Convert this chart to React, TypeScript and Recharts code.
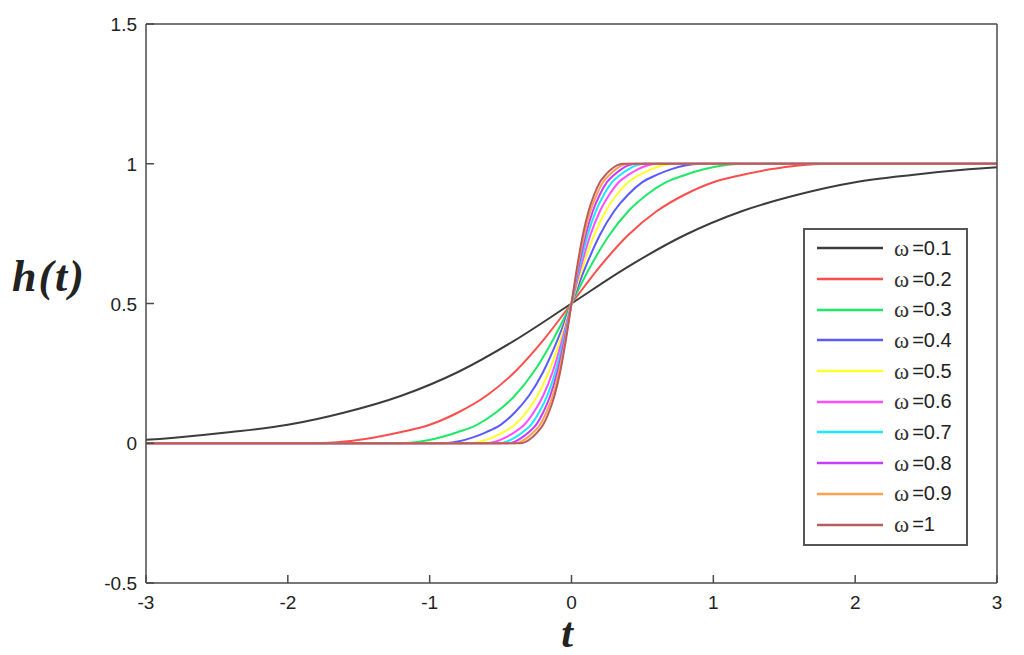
import { LineChart, Line, XAxis, YAxis, Legend } from 'recharts';

// h levels shared by every curve; each t array holds where that curve crosses the level
const levels = [0, 0, 0.006, 0.02, 0.04, 0.066, 0.11, 0.17, 0.255, 0.368, 0.5, 0.632, 0.745, 0.83, 0.89, 0.934, 0.96, 0.98, 0.994, 1, 1];

const tW01 = [-4, -3.6, -3.2, -2.8, -2.4, -2.0, -1.6, -1.2, -0.8, -0.4, 0, 0.4, 0.8, 1.2, 1.6, 2.0, 2.4, 2.8, 3.2, 3.6, 4];
const tW02 = [-3, -1.8, -1.6, -1.4, -1.2, -1.0, -0.8, -0.6, -0.4, -0.2, 0, 0.2, 0.4, 0.6, 0.8, 1.0, 1.2, 1.4, 1.6, 1.8, 3];
const tW03 = [-3, -1.2, -1.067, -0.933, -0.8, -0.667, -0.533, -0.4, -0.267, -0.133, 0, 0.133, 0.267, 0.4, 0.533, 0.667, 0.8, 0.933, 1.067, 1.2, 3];
const tW04 = [-3, -0.9, -0.8, -0.7, -0.6, -0.5, -0.4, -0.3, -0.2, -0.1, 0, 0.1, 0.2, 0.3, 0.4, 0.5, 0.6, 0.7, 0.8, 0.9, 3];
const tW05 = [-3, -0.72, -0.64, -0.56, -0.48, -0.4, -0.32, -0.24, -0.16, -0.08, 0, 0.08, 0.16, 0.24, 0.32, 0.4, 0.48, 0.56, 0.64, 0.72, 3];
const tW06 = [-3, -0.6, -0.533, -0.467, -0.4, -0.333, -0.267, -0.2, -0.133, -0.067, 0, 0.067, 0.133, 0.2, 0.267, 0.333, 0.4, 0.467, 0.533, 0.6, 3];
const tW07 = [-3, -0.514, -0.457, -0.4, -0.343, -0.286, -0.229, -0.171, -0.114, -0.057, 0, 0.057, 0.114, 0.171, 0.229, 0.286, 0.343, 0.4, 0.457, 0.514, 3];
const tW08 = [-3, -0.45, -0.4, -0.35, -0.3, -0.25, -0.2, -0.15, -0.1, -0.05, 0, 0.05, 0.1, 0.15, 0.2, 0.25, 0.3, 0.35, 0.4, 0.45, 3];
const tW09 = [-3, -0.4, -0.356, -0.311, -0.267, -0.222, -0.178, -0.133, -0.089, -0.044, 0, 0.044, 0.089, 0.133, 0.178, 0.222, 0.267, 0.311, 0.356, 0.4, 3];
const tW10 = [-3, -0.36, -0.32, -0.28, -0.24, -0.2, -0.16, -0.12, -0.08, -0.04, 0, 0.04, 0.08, 0.12, 0.16, 0.2, 0.24, 0.28, 0.32, 0.36, 3];

const omegas = ['0.1', '0.2', '0.3', '0.4', '0.5', '0.6', '0.7', '0.8', '0.9', '1'];
const colors = ['#3c3c3c', '#ff4d4d', '#1ee866', '#5a5aff', '#ffff2a', '#ff4dff', '#1ae8ff', '#c83cff', '#ffa050', '#b85c5c'];
const tSets = [tW01, tW02, tW03, tW04, tW05, tW06, tW07, tW08, tW09, tW10];

const xTicks = [-3, -2, -1, 0, 1, 2, 3];
const yTicks = [-0.5, 0, 0.5, 1, 1.5];

const series = omegas.map((w, i) => ({
  key: 'w' + w,
  omega: w,
  color: colors[i],
  data: levels.map((h, j) => ({ t: tSets[i][j], h })),
}));

const axisColor = '#4a4a4a';
const TICK_LEN = 8;
const X_GAP = 12;
const Y_GAP = 9;

// MATLAB-style ticks: short marks pointing into the plot box
const BottomTick = (p: any) => (
  <g>
    <line x1={p.x} x2={p.x} y1={p.y - X_GAP} y2={p.y - X_GAP - TICK_LEN} stroke={axisColor} strokeWidth={1.5} />
    <text x={p.x} y={p.y + 14} textAnchor="middle" fill="#222" fontSize={19} fontFamily="Liberation Sans">
      {p.payload.value}
    </text>
  </g>
);
const LeftTick = (p: any) => (
  <g>
    <line x1={p.x + Y_GAP} x2={p.x + Y_GAP + TICK_LEN} y1={p.y} y2={p.y} stroke={axisColor} strokeWidth={1.5} />
    <text x={p.x} y={p.y + 7} textAnchor="end" fill="#222" fontSize={19} fontFamily="Liberation Sans">
      {p.payload.value}
    </text>
  </g>
);
const TopTick = (p: any) => (
  <line x1={p.x} x2={p.x} y1={p.y} y2={p.y + TICK_LEN} stroke={axisColor} strokeWidth={1.5} />
);
const RightTick = (p: any) => (
  <line x1={p.x} x2={p.x - TICK_LEN} y1={p.y} y2={p.y} stroke={axisColor} strokeWidth={1.5} />
);

function LegendBox() {
  return (
    <div style={{ width: 161, height: 311, border: '2px solid #555', background: '#fff', paddingTop: 3, boxSizing: 'content-box' }}>
      {series.map((s) => (
        <div key={s.key} style={{ height: 30.7, display: 'flex', alignItems: 'center' }}>
          <svg width={89} height={10} style={{ flex: 'none' }}>
            <line x1={12} x2={78} y1={5} y2={5} stroke={s.color} strokeWidth={2.5} />
          </svg>
          <span style={{ fontFamily: 'Liberation Serif', fontSize: 23, color: '#333', lineHeight: 1 }}>ω</span>
          <span style={{ fontFamily: 'Liberation Sans', fontSize: 20, color: '#222', marginLeft: 3 }}>={s.omega}</span>
        </div>
      ))}
    </div>
  );
}

export default function App() {
  return (
    <div style={{ position: 'absolute', left: 0, top: 0, width: 1024, height: 655, background: '#fff' }}>
      <LineChart width={1024} height={655} margin={{ top: 23, right: 26, bottom: 32, left: 86 }}>
        <XAxis
          dataKey="t"
          type="number"
          domain={[-3, 3]}
          ticks={xTicks}
          allowDataOverflow
          height={40}
          tickSize={0}
          tickMargin={X_GAP}
          tick={BottomTick}
          tickLine={false}
          axisLine={{ stroke: axisColor, strokeWidth: 1.5 }}
        />
        <XAxis
          xAxisId="top"
          orientation="top"
          type="number"
          domain={[-3, 3]}
          ticks={xTicks}
          height={1}
          tickSize={0}
          tickMargin={0}
          tick={TopTick}
          tickLine={false}
          axisLine={{ stroke: axisColor, strokeWidth: 1.5 }}
        />
        <YAxis
          type="number"
          domain={[-0.5, 1.5]}
          ticks={yTicks}
          allowDataOverflow
          width={60}
          tickSize={0}
          tickMargin={Y_GAP}
          tick={LeftTick}
          tickLine={false}
          axisLine={{ stroke: axisColor, strokeWidth: 1.5 }}
        />
        <YAxis
          yAxisId="right"
          orientation="right"
          type="number"
          domain={[-0.5, 1.5]}
          ticks={yTicks}
          width={1}
          tickSize={0}
          tickMargin={0}
          tick={RightTick}
          tickLine={false}
          axisLine={{ stroke: axisColor, strokeWidth: 1.5 }}
        />
        {series.map((s) => (
          <Line
            key={s.key}
            data={s.data}
            dataKey="h"
            name={'ω =' + s.omega}
            type="monotone"
            stroke={s.color}
            strokeWidth={2}
            dot={false}
            isAnimationActive={false}
          />
        ))}
        <Legend
          layout="vertical"
          align="center"
          verticalAlign="middle"
          wrapperStyle={{ left: 803, top: 228, width: 165, height: 316 }}
          content={() => <LegendBox />}
        />
      </LineChart>
      <svg width={1024} height={655} style={{ position: 'absolute', left: 0, top: 0, pointerEvents: 'none' }}>
        <text x={12} y={291} fontFamily="Liberation Serif" fontStyle="italic" fontWeight="bold" fontSize={44} fill="#222" letterSpacing={2}>
          h(t)
        </text>
        <text x={567} y={647} textAnchor="middle" fontFamily="Liberation Serif" fontStyle="italic" fontWeight="bold" fontSize={42} fill="#222">
          t
        </text>
      </svg>
    </div>
  );
}
